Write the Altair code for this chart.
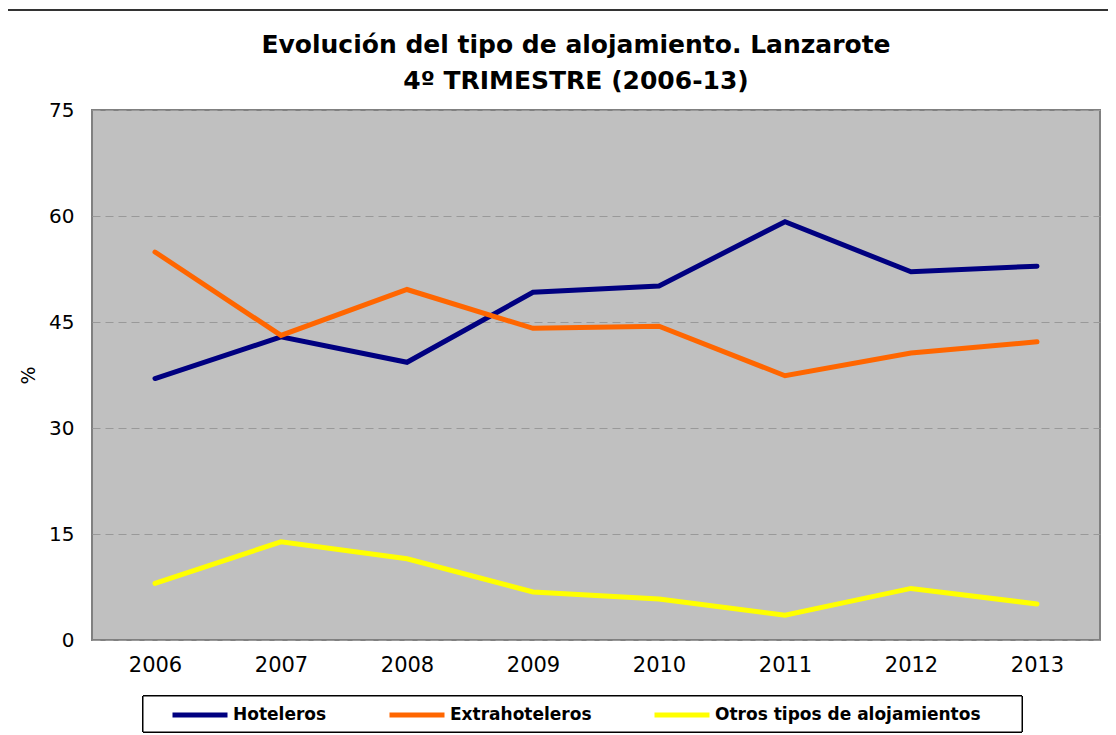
import altair as alt
import pandas as pd

years = ["2006", "2007", "2008", "2009", "2010", "2011", "2012", "2013"]
hoteleros = [37.0, 42.9, 39.3, 49.2, 50.1, 59.2, 52.1, 52.9]
extrahoteleros = [54.9, 43.1, 49.6, 44.1, 44.4, 37.4, 40.6, 42.2]
otros = [8.0, 13.9, 11.5, 6.8, 5.8, 3.5, 7.3, 5.1]

series_names = ["Hoteleros", "Extrahoteleros", "Otros tipos de alojamientos"]
series_colors = ["#000080", "#FF6600", "#FFFF00"]
y_ticks = [0, 15, 30, 45, 60, 75]

rows = []
for name, vals in zip(series_names, [hoteleros, extrahoteleros, otros]):
    for yr, v in zip(years, vals):
        rows.append({"Año": yr, "Serie": name, "Valor": v})
df = pd.DataFrame(rows)

FONT = "DejaVu Sans"

lines = alt.Chart(df).mark_line(strokeWidth=5, strokeCap="round").encode(
    x=alt.X("Año:O", sort=years, title=None,
            scale=alt.Scale(paddingInner=0, paddingOuter=0.5),
            axis=alt.Axis(labelAngle=0, labelFontSize=21, labelFont=FONT,
                          labelColor="#000", labelPadding=14, ticks=False,
                          domain=False, grid=False)),
    y=alt.Y("Valor:Q", title="%",
            scale=alt.Scale(domain=[0, 75], nice=False),
            axis=alt.Axis(values=y_ticks, labelFontSize=20, labelFont=FONT,
                          labelColor="#000", labelPadding=18, ticks=False,
                          domain=False, grid=True, gridColor="#999999",
                          gridDash=[8, 5], gridWidth=1,
                          titleFontSize=19, titleFont=FONT,
                          titleFontWeight="normal", titleColor="#000",
                          titlePadding=10)),
    color=alt.Color("Serie:N",
                    scale=alt.Scale(domain=series_names, range=series_colors),
                    legend=alt.Legend(title=None, orient="none",
                                      direction="horizontal",
                                      legendX=78, legendY=575,
                                      symbolType="stroke", symbolSize=3025,
                                      symbolStrokeWidth=5,
                                      labelFontSize=17, labelFont=FONT,
                                      labelFontWeight="bold",
                                      labelColor="#000", labelOffset=3,
                                      labelLimit=500,
                                      columnPadding=52, padding=0)),
)

legend_box = alt.Chart(df).mark_rect(fill="white", stroke="black",
                                      strokeWidth=1).encode(
    x=alt.value(51), x2=alt.value(930), y=alt.value(586), y2=alt.value(622))

frame_top = alt.Chart(df).mark_rule(color="#333333", strokeWidth=2).encode(
    x=alt.value(-85), x2=alt.value(1030), y=alt.value(-100))
frame_left = alt.Chart(df).mark_rule(color="#333333", strokeWidth=1.5).encode(
    x=alt.value(-85), y=alt.value(-100), y2=alt.value(640))

chart = alt.layer(frame_top, frame_left, legend_box, lines).properties(
    width=1008, height=530,
    background="white",
    autosize=alt.AutoSizeParams(type="none"),
    padding={"left": 84, "top": 102, "right": 8, "bottom": 95},
    title=alt.TitleParams(
        ["Evolución del tipo de alojamiento. Lanzarote",
         "4º TRIMESTRE (2006-13)"],
        font=FONT, fontSize=25, fontWeight="bold", color="#000",
        anchor="middle", lineHeight=36, offset=0, dx=-20, dy=85),
).configure_view(
    fill="#C0C0C0", stroke="#808080", strokeWidth=2
)

chart.save("out.html", embed_options={"renderer": "svg", "actions": False})
